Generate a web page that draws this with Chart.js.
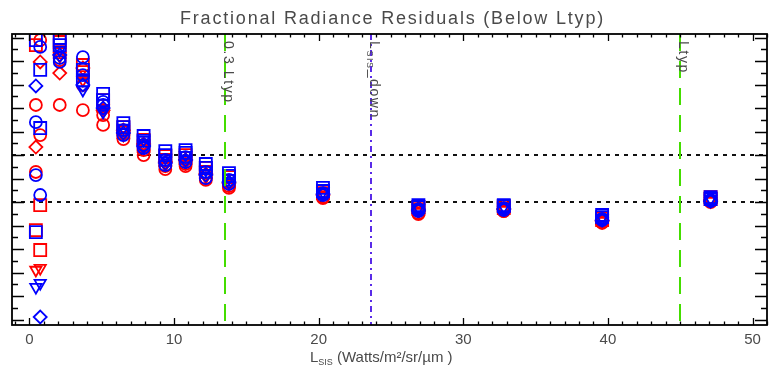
<!DOCTYPE html>
<html><head><meta charset="utf-8">
<script src="https://cdn.jsdelivr.net/npm/chart.js@4.4.1/dist/chart.umd.min.js"></script>
<style>html,body{margin:0;padding:0;background:#fff}canvas{display:block}</style>
</head><body>
<canvas id="c" width="769" height="373" style="width:769px;height:373px"></canvas>
<script>
// Radiance levels (L_SIS, Watts/m^2/sr/um)
const radianceLevels = [0.45, 0.75, 2.1, 3.7, 5.1, 6.5, 7.9, 9.4, 10.8, 12.2, 13.8, 20.3, 26.9, 32.8, 39.6, 47.1];

// Fractional radiance residuals, blue detectors
const blueSquareA   = [0.0689, 0.0562, 0.0698, 0.0562, 0.0460, 0.0336, 0.0281, 0.0217, 0.0221, 0.0162, 0.0123, 0.0060, -0.0013, -0.0013, -0.0055, 0.0021];
const blueSquareB   = [-0.0128, 0.0315, 0.0668, 0.0519, 0.0434, 0.0319, 0.0260, 0.0200, 0.0209, 0.0145, 0.0111, 0.0047, -0.0021, -0.0017, -0.0064, 0.0013];
const blueCircleA   = [0.0340, 0.0030, 0.0613, 0.0617, 0.0413, 0.0306, 0.0243, 0.0179, 0.0191, 0.0128, 0.0094, 0.0038, -0.0030, -0.0026, -0.0072, 0.0009];
const blueCircleB   = [0.0115, 0.0660, 0.0596, 0.0540, 0.0426, 0.0285, 0.0230, 0.0157, 0.0170, 0.0102, 0.0077, 0.0030, -0.0038, -0.0034, -0.0077, 0.0004];
const blueDiamond   = [0.0494, -0.0489, 0.0626, 0.0498, 0.0400, 0.0294, 0.0238, 0.0166, 0.0179, 0.0115, 0.0085, 0.0034, -0.0034, -0.0030, -0.0077, 0.0004];
const blueTriangle  = [-0.0362, -0.0345, 0.0647, 0.0477, 0.0383, 0.0315, 0.0264, 0.0187, 0.0200, 0.0136, 0.0102, 0.0043, -0.0026, -0.0021, -0.0068, 0.0013];

// Fractional radiance residuals, red detectors
const redSquareA    = [0.0668, -0.0204, 0.0681, 0.0583, 0.0434, 0.0319, 0.0264, 0.0196, 0.0200, 0.0145, 0.0106, 0.0047, -0.0021, -0.0017, -0.0068, 0.0021];
const redSquareB    = [-0.0119, -0.0013, 0.0638, 0.0553, 0.0409, 0.0298, 0.0238, 0.0179, 0.0187, 0.0128, 0.0089, 0.0038, -0.0030, -0.0026, -0.0077, 0.0013];
const redCircleA    = [0.0413, 0.0689, 0.0604, 0.0498, 0.0370, 0.0289, 0.0221, 0.0153, 0.0162, 0.0102, 0.0068, 0.0021, -0.0047, -0.0038, -0.0085, 0.0004];
const redCircleB    = [0.0128, 0.0285, 0.0413, 0.0391, 0.0328, 0.0268, 0.0200, 0.0140, 0.0153, 0.0094, 0.0060, 0.0017, -0.0051, -0.0038, -0.0089, 0.0000];
const redDiamond    = [0.0234, 0.0596, 0.0549, 0.0570, 0.0391, 0.0306, 0.0247, 0.0170, 0.0179, 0.0119, 0.0081, 0.0030, -0.0038, -0.0030, -0.0081, 0.0009];
const redTriangle   = [-0.0289, -0.0281, 0.0621, 0.0519, 0.0400, 0.0285, 0.0226, 0.0157, 0.0166, 0.0106, 0.0072, 0.0026, -0.0043, -0.0034, -0.0081, 0.0004];

const xTicks = [0, 10, 20, 30, 40, 50];
const referenceResiduals = [0, 0.02];
const Ltyp = 45;
const markerLines = [
  {x: 0.3 * Ltyp, parts: [{t: '0.3 Ltyp'}], kind: 'green'},
  {x: 23.6, parts: [{t: 'L'}, {t: 'SIS', sub: true}, {t: '_down'}], kind: 'blue'},
  {x: Ltyp, parts: [{t: 'Ltyp'}], kind: 'green'}
];
const chartTitle = 'Fractional Radiance Residuals (Below Ltyp)';

const BLUE = '#0000ff', RED = '#ff0000';
function series(vals, color, style, r, rot) {
  return {
    data: radianceLevels.map((x, i) => ({x, y: vals[i]})),
    pointStyle: style, pointRadius: r, pointRotation: rot || 0,
    borderColor: color, backgroundColor: 'rgba(0,0,0,0)',
    pointBorderWidth: 1.8, showLine: false
  };
}
const datasets = [
  series(blueSquareA, BLUE, 'rect', 8.5),
  series(blueSquareB, BLUE, 'rect', 8.5),
  series(blueCircleA, BLUE, 'circle', 6),
  series(blueCircleB, BLUE, 'circle', 6),
  series(blueDiamond, BLUE, 'rectRot', 6.5),
  series(blueTriangle, BLUE, 'triangle', 6.5, 180),
  series(redSquareA, RED, 'rect', 8.5),
  series(redSquareB, RED, 'rect', 8.5),
  series(redCircleA, RED, 'circle', 6),
  series(redCircleB, RED, 'circle', 6),
  series(redDiamond, RED, 'rectRot', 6.5),
  series(redTriangle, RED, 'triangle', 6.5, 180)
];

const FONT = '"Liberation Sans", Arial, sans-serif';
const TEXT = '#4a4a4a';

function drawParts(ctx, parts, size, subSize, spacing) {
  let x = 0;
  parts.forEach(p => {
    const fs = p.sub ? subSize : size;
    ctx.font = fs + 'px ' + FONT;
    ctx.letterSpacing = spacing + 'px';
    ctx.fillText(p.t, x, p.sub ? 3 : 0);
    x += ctx.measureText(p.t).width;
  });
}

const decor = {
  id: 'decor',
  beforeDatasetsDraw(chart) {
    const {ctx, chartArea: a, scales: {y}} = chart;
    ctx.save();
    ctx.beginPath(); ctx.rect(a.left, a.top, a.right - a.left, a.bottom - a.top); ctx.clip();
    ctx.strokeStyle = '#111'; ctx.lineWidth = 2; ctx.setLineDash([4, 5]);
    referenceResiduals.forEach(v => {
      const py = Math.round(y.getPixelForValue(v));
      ctx.beginPath(); ctx.moveTo(a.left, py); ctx.lineTo(a.right, py); ctx.stroke();
    });
    ctx.restore();
  },
  afterDatasetsDraw(chart) {
    const {ctx, chartArea: a, scales: {x, y}} = chart;
    ctx.save();
    markerLines.forEach(m => {
      const px = Math.round(x.getPixelForValue(m.x));
      ctx.save();
      ctx.lineWidth = 2;
      if (m.kind === 'green') { ctx.strokeStyle = '#44dd00'; ctx.setLineDash([17, 10]); }
      else { ctx.strokeStyle = '#5a2be8'; ctx.setLineDash([6, 4, 2, 4]); }
      ctx.beginPath(); ctx.moveTo(px, a.top); ctx.lineTo(px, a.bottom); ctx.stroke();
      ctx.restore();
      ctx.save();
      ctx.translate(px - 1, a.top + 7);
      ctx.rotate(Math.PI / 2);
      ctx.fillStyle = TEXT; ctx.textBaseline = 'alphabetic'; ctx.textAlign = 'left';
      drawParts(ctx, m.parts, 14, 9, 1.6);
      ctx.restore();
    });
    // frame
    ctx.strokeStyle = '#000'; ctx.lineWidth = 1.8; ctx.setLineDash([]);
    ctx.strokeRect(a.left, a.top, a.right - a.left, a.bottom - a.top);
    // x ticks (inward, top and bottom)
    ctx.lineWidth = 1.3;
    for (let v = Math.ceil(x.min); v <= x.max; v += 1) {
      const px = Math.round(x.getPixelForValue(v)) + 0.5;
      const len = (v % 10 === 0) ? 7 : 3.5;
      ctx.beginPath();
      ctx.moveTo(px, a.bottom); ctx.lineTo(px, a.bottom - len);
      ctx.moveTo(px, a.top); ctx.lineTo(px, a.top + len);
      ctx.stroke();
    }
    // y ticks (inward, left and right)
    const step = 0.005;
    for (let k = Math.ceil(y.min / step); k * step <= y.max; k++) {
      const py = Math.round(y.getPixelForValue(k * step)) + 0.5;
      const len = (k % 2 === 0) ? 12 : 6;
      ctx.beginPath();
      ctx.moveTo(a.left, py); ctx.lineTo(a.left + len, py);
      ctx.moveTo(a.right, py); ctx.lineTo(a.right - len, py);
      ctx.stroke();
    }
    ctx.restore();
  },
  afterDraw(chart) {
    const {ctx} = chart;
    ctx.save();
    ctx.fillStyle = TEXT; ctx.textAlign = 'left'; ctx.textBaseline = 'alphabetic';
    ctx.font = '18px ' + FONT; ctx.letterSpacing = '0px';
    const w = ctx.measureText(chartTitle).width;
    const target = 425;
    ctx.letterSpacing = ((target - w) / chartTitle.length) + 'px';
    ctx.fillText(chartTitle, 180, 24);
    ctx.translate(310, 362);
    drawParts(ctx, [{t: 'L'}, {t: 'SIS', sub: true}, {t: ' (Watts/m\u00b2/sr/\u00b5m )'}], 15, 9, 0);
    ctx.restore();
  }
};

new Chart(document.getElementById('c'), {
  type: 'scatter',
  data: {datasets},
  options: {
    responsive: false, animation: false, events: [],
    layout: {autoPadding: false, padding: {left: 12, right: 2, top: 34, bottom: 0}},
    plugins: {legend: {display: false}, tooltip: {enabled: false}, title: {display: false}},
    scales: {
      x: {
        type: 'linear', min: -1.2, max: 51,
        grid: {display: false, drawTicks: false}, border: {display: false},
        afterBuildTicks: s => { s.ticks = xTicks.map(v => ({value: v})); },
        ticks: {padding: 6, color: TEXT, font: {family: FONT, size: 15}, maxRotation: 0, autoSkip: false},
        afterFit: s => { s.height = 48; s.paddingLeft = 0; s.paddingRight = 0; }
      },
      y: {display: false, min: -0.0523, max: 0.0715}
    }
  },
  plugins: [decor]
});
</script>
</body></html>
